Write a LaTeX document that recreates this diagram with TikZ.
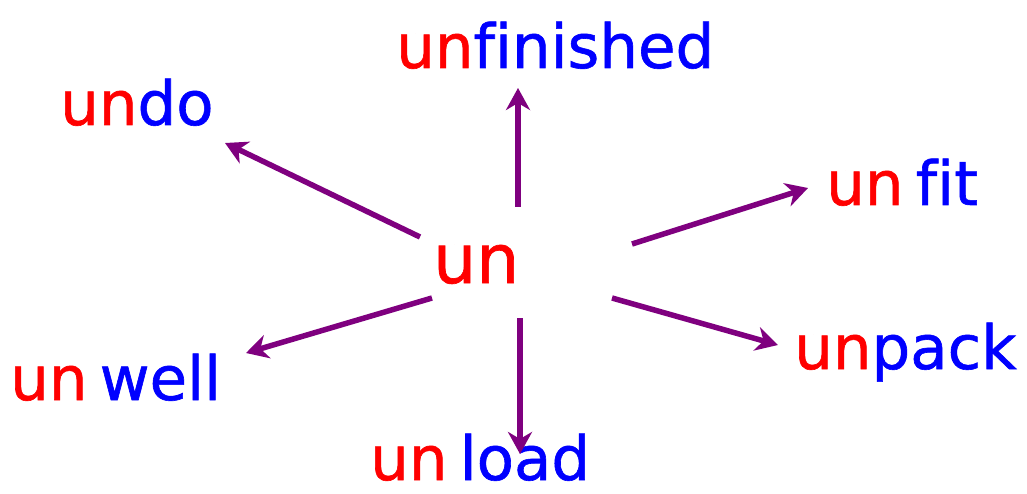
\documentclass[tikz,border=0pt]{standalone}
\usepackage{fontspec}
\setmainfont[Ligatures=NoCommon,FakeBold=1]{DejaVu Sans}
\usetikzlibrary{arrows.meta}
\definecolor{arrowpurple}{HTML}{7F007F}
\definecolor{prefixred}{HTML}{FF0000}
\definecolor{rootblue}{HTML}{0000FF}
\newcommand{\pre}[1]{\textcolor{prefixred}{#1}}
\newcommand{\rt}[1]{\textcolor{rootblue}{#1}}
\newcommand{\gap}{\hspace{0.2em}}
\begin{document}
\begin{tikzpicture}[x=1pt,y=-1pt,
  word/.style={anchor=base west,inner sep=0pt,font=\fontsize{61}{61}\selectfont},
  hub/.style={anchor=base west,inner sep=0pt,font=\fontsize{68}{68}\selectfont},
  link/.style={draw=arrowpurple,line width=5.5pt,-{Stealth[length=22pt,width=24pt,inset=7pt]}}]
\useasboundingbox[fill=white] (0,0) rectangle (1027,494);
\node[hub] (un) at (433,283) {\pre{un}};
\node[word] (undo) at (60,125) {\pre{un}\rt{do}};
\node[word] (unfinished) at (396,68) {\pre{un}\rt{finished}};
\node[word] (unfit) at (826,205) {\pre{un}\gap\rt{fit}};
\node[word] (unpack) at (794,369) {\pre{un}\rt{pack}};
\node[word] (unwell) at (10,400) {\pre{un}\gap\rt{well}};
\node[word] (unload) at (370,480) {\pre{un}\gap\rt{load}};
\coordinate (s1) at (420,237); \coordinate (e1) at (225,143);
\coordinate (s2) at (518,207); \coordinate (e2) at (518,88);
\coordinate (s3) at (632,244); \coordinate (e3) at (808,188);
\coordinate (s4) at (612,298); \coordinate (e4) at (778,345);
\coordinate (s5) at (520,318); \coordinate (e5) at (520,454);
\coordinate (s6) at (432,298); \coordinate (e6) at (246,353);
\draw[link] (s1) -- (e1);
\draw[link] (s2) -- (e2);
\draw[link] (s3) -- (e3);
\draw[link] (s4) -- (e4);
\draw[link] (s5) -- (e5);
\draw[link] (s6) -- (e6);
\end{tikzpicture}
\end{document}
